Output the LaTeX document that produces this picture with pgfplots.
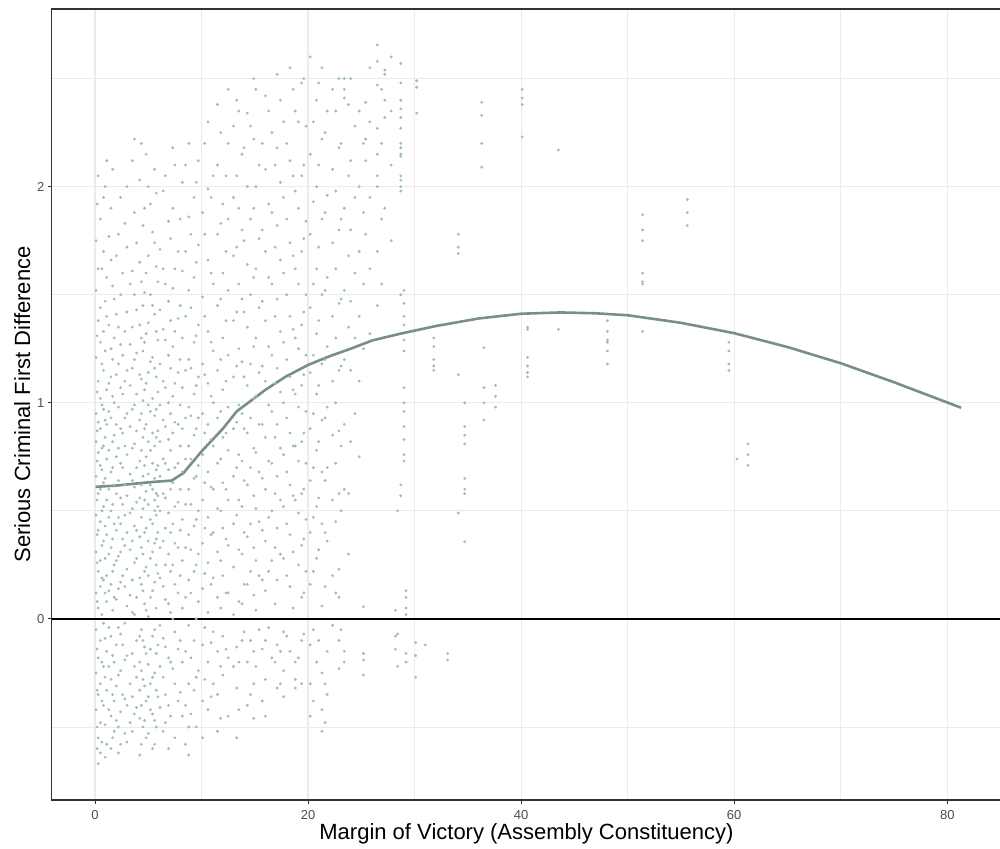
\documentclass[border=0pt]{standalone}
\usepackage{pgfplots}
\pgfplotsset{compat=1.18}
\usepackage{fontspec}
\setmainfont{Liberation Sans}
\definecolor{ptcol}{RGB}{158,188,188}
\definecolor{fitcol}{RGB}{120,142,141}
\definecolor{gridcol}{RGB}{235,235,235}
\definecolor{tickcol}{RGB}{77,77,77}
\definecolor{framecol}{RGB}{51,51,51}
\begin{document}
\begin{tikzpicture}
\useasboundingbox (0,0) rectangle (500pt,424pt);
\begin{axis}[
  at={(25.93pt,24pt)}, anchor=south west,
  scale only axis, width=474.6pt, height=395.5pt,
  xmin=-4.05, xmax=85.05, ymin=-0.838, ymax=2.822,
  xtick={0,20,40,60,80}, minor xtick={10,30,50,70},
  ytick={0,1,2}, minor ytick={-0.5,0.5,1.5,2.5},
  grid=both,
  major grid style={draw=gridcol, line width=0.6pt},
  minor grid style={draw=gridcol, line width=0.35pt},
  axis line style={draw=framecol, line width=0.6pt},
  tick align=outside, major tick length=2pt, minor tick length=0pt,
  xtick pos=bottom, ytick pos=left,
  tick style={draw=framecol, line width=0.5pt},
  /pgf/number format/assume math mode=true,
  ticklabel style={font=\fontsize{6.5}{7}\selectfont, text=tickcol},
  xticklabel style={inner sep=0pt, yshift=-3pt},
  yticklabel style={inner sep=0pt, xshift=-1.5pt},
  xlabel={Margin of Victory (Assembly Constituency)},
  ylabel={Serious Criminal First Difference},
  label style={font=\fontsize{11}{13}\selectfont},
  xlabel style={at={(axis description cs:0.5,-0.05)}, anchor=base},
  ylabel style={at={(axis description cs:-0.02303,0.5)}, anchor=base},
  clip=true,
]
\addplot[only marks, color=ptcol, mark=*, mark size=0.5pt, mark options={draw=none, fill=ptcol, fill opacity=0.42}] coordinates {
(0.1,1.75)(0.1,1.52)(0.1,1.21)(0.1,0.95)(0.1,0.82)(0.1,0.66)(0.1,0.48)(0.1,0.31)(0.1,0.12)(0.1,-0.05)(0.1,-0.25)(0.1,-0.42)
(0.3,2.05)(0.3,1.62)(0.3,1.38)(0.3,1.1)(0.3,0.91)(0.3,0.77)(0.3,0.58)(0.3,0.41)(0.3,0.22)(0.3,0.05)(0.3,-0.18)(0.3,-0.35)(0.3,-0.55)(0.3,-0.67)
(0.5,1.85)(0.5,1.44)(0.5,1.28)(0.5,1.02)(0.5,0.88)(0.5,0.71)(0.5,0.6)(0.5,0.45)(0.5,0.27)(0.5,0.15)(0.5,-0.1)(0.5,-0.3)(0.5,-0.48)(0.5,-0.62)
(0.8,1.95)(0.8,1.7)(0.8,1.33)(0.8,1.15)(0.8,0.97)(0.8,0.8)(0.8,0.63)(0.8,0.52)(0.8,0.36)(0.8,0.18)(0.8,-0.02)(0.8,-0.22)(0.8,-0.4)
(1.1,2.12)(1.1,1.58)(1.1,1.4)(1.1,1.06)(1.1,0.9)(1.1,0.74)(1.1,0.55)(1.1,0.39)(1.1,0.2)(1.1,0.08)(1.1,-0.15)(1.1,-0.33)(1.1,-0.58)
(1.5,1.9)(1.5,1.66)(1.5,1.25)(1.5,1.12)(1.5,0.93)(1.5,0.68)(1.5,0.5)(1.5,0.33)(1.5,0.16)(1.5,-0.08)(1.5,-0.28)(1.5,-0.45)(1.5,-0.6)
(1.8,1.48)(1.8,1.3)(1.8,1.0)(1.8,0.85)(1.8,0.62)(1.8,0.44)(1.8,0.25)(1.8,0.1)(1.8,-0.2)(1.8,-0.38)(1.8,-0.52)
(2.2,1.78)(2.2,1.35)(2.2,1.18)(2.2,0.98)(2.2,0.79)(2.2,0.64)(2.2,0.47)(2.2,0.29)(2.2,0.14)(2.2,-0.04)(2.2,-0.26)(2.2,-0.5)(2.2,-0.62)
(2.6,1.6)(2.6,1.22)(2.6,1.04)(2.6,0.86)(2.6,0.7)(2.6,0.53)(2.6,0.37)(2.6,0.2)(2.6,-0.12)(2.6,-0.35)
(3.0,2.0)(3.0,1.72)(3.0,1.42)(3.0,1.15)(3.0,0.95)(3.0,0.76)(3.0,0.57)(3.0,0.4)(3.0,0.23)(3.0,0.06)(3.0,-0.17)(3.0,-0.4)(3.0,-0.57)
(3.3,1.55)(3.3,1.27)(3.3,1.08)(3.3,0.89)(3.3,0.67)(3.3,0.49)(3.3,0.32)(3.3,0.11)(3.3,-0.3)(3.3,-0.48)
(3.7,2.22)(3.7,1.88)(3.7,1.5)(3.7,1.2)(3.7,0.99)(3.7,0.81)(3.7,0.61)(3.7,0.43)(3.7,0.26)(3.7,0.02)(3.7,-0.22)(3.7,-0.44)
(4.2,2.03)(4.2,1.65)(4.2,1.36)(4.2,1.13)(4.2,0.92)(4.2,0.73)(4.2,0.56)(4.2,0.38)(4.2,0.19)(4.2,-0.08)(4.2,-0.2)(4.2,-0.33)(4.2,-0.46)(4.2,-0.63)
(4.5,1.82)(4.5,1.45)(4.5,1.24)(4.5,1.01)(4.5,0.84)(4.5,0.66)(4.5,0.51)(4.5,0.3)(4.5,0.13)(4.5,-0.1)(4.5,-0.28)(4.5,-0.5)
(4.8,2.15)(4.8,1.6)(4.8,1.32)(4.8,1.09)(4.8,0.9)(4.8,0.75)(4.8,0.59)(4.8,0.42)(4.8,0.24)(4.8,0.04)(4.8,-0.16)(4.8,-0.38)(4.8,-0.55)
(5.2,1.92)(5.2,1.5)(5.2,1.19)(5.2,0.96)(5.2,0.78)(5.2,0.62)(5.2,0.46)(5.2,0.28)(5.2,0.1)(5.2,-0.14)(5.2,-0.3)(5.2,-0.42)
(5.6,2.08)(5.6,1.74)(5.6,1.41)(5.6,1.16)(5.6,0.94)(5.6,0.8)(5.6,0.65)(5.6,0.55)(5.6,0.5)(5.6,0.35)(5.6,0.17)(5.6,-0.05)(5.6,-0.25)(5.6,-0.47)(5.6,-0.58)
(5.9,1.56)(5.9,1.29)(5.9,1.05)(5.9,0.87)(5.9,0.71)(5.9,0.57)(5.9,0.52)(5.9,0.4)(5.9,0.21)(5.9,-0.12)(5.9,-0.36)
(6.4,1.98)(6.4,1.62)(6.4,1.34)(6.4,1.1)(6.4,0.92)(6.4,0.74)(6.4,0.58)(6.4,0.36)(6.4,0.15)(6.4,-0.09)(6.4,-0.27)(6.4,-0.52)
(6.9,1.84)(6.9,1.47)(6.9,1.22)(6.9,1.0)(6.9,0.83)(6.9,0.69)(6.9,0.49)(6.9,0.3)(6.9,0.07)(6.9,-0.18)(6.9,-0.4)(6.9,-0.6)
(7.3,2.18)(7.3,1.9)(7.3,1.53)(7.3,1.26)(7.3,1.03)(7.3,0.86)(7.3,0.63)(7.3,0.44)(7.3,0.25)(7.3,0.0)(7.3,-0.23)
(7.8,1.7)(7.8,1.39)(7.8,1.14)(7.8,0.9)(7.8,0.72)(7.8,0.54)(7.8,0.33)(7.8,0.12)(7.8,-0.14)(7.8,-0.38)
(8.2,2.02)(8.2,1.61)(8.2,1.3)(8.2,1.07)(8.2,0.88)(8.2,0.68)(8.2,0.46)(8.2,0.27)(8.2,0.05)(8.2,-0.2)(8.2,-0.45)
(8.8,2.2)(8.8,1.86)(8.8,1.52)(8.8,1.2)(8.8,0.98)(8.8,0.8)(8.8,0.6)(8.8,0.39)(8.8,0.18)(8.8,-0.03)(8.8,-0.3)(8.8,-0.5)(8.8,-0.63)
(9.3,1.95)(9.3,1.58)(9.3,1.28)(9.3,1.04)(9.3,0.85)(9.3,0.65)(9.3,0.43)(9.3,0.22)(9.3,-0.1)(9.3,-0.33)
(9.7,2.12)(9.7,1.73)(9.7,1.36)(9.7,1.12)(9.7,0.93)(9.7,0.71)(9.7,0.5)(9.7,0.3)(9.7,0.08)(9.7,-0.24)
(10.1,1.88)(10.1,1.49)(10.1,1.18)(10.1,0.95)(10.1,0.76)(10.1,0.55)(10.1,0.35)(10.1,0.14)(10.1,-0.12)(10.1,-0.38)(10.1,-0.55)
(10.6,2.3)(10.6,1.99)(10.6,1.66)(10.6,1.33)(10.6,1.09)(10.6,0.9)(10.6,0.68)(10.6,0.47)(10.6,0.26)(10.6,0.03)(10.6,-0.2)(10.6,-0.42)
(11.1,2.05)(11.1,1.55)(11.1,1.24)(11.1,1.0)(11.1,0.8)(11.1,0.6)(11.1,0.4)(11.1,0.19)(11.1,-0.06)(11.1,-0.3)
(11.5,2.38)(11.5,2.1)(11.5,1.78)(11.5,1.45)(11.5,1.15)(11.5,0.93)(11.5,0.72)(11.5,0.51)(11.5,0.31)(11.5,0.1)(11.5,-0.15)(11.5,-0.35)(11.5,-0.52)
(12.0,1.92)(12.0,1.6)(12.0,1.3)(12.0,1.06)(12.0,0.84)(12.0,0.63)(12.0,0.42)(12.0,0.2)(12.0,-0.08)(12.0,-0.26)
(12.5,2.45)(12.5,2.2)(12.5,1.85)(12.5,1.52)(12.5,1.22)(12.5,0.98)(12.5,0.78)(12.5,0.55)(12.5,0.34)(12.5,0.12)(12.5,-0.18)(12.5,-0.45)
(13.0,2.28)(13.0,1.95)(13.0,1.68)(13.0,1.38)(13.0,1.12)(13.0,0.88)(13.0,0.66)(13.0,0.44)(13.0,0.24)(13.0,0.02)(13.0,-0.22)
(13.3,2.4)(13.3,2.05)(13.3,1.72)(13.3,1.42)(13.3,1.17)(13.3,0.91)(13.3,0.7)(13.3,0.48)(13.3,-0.13)(13.3,-0.32)(13.3,-0.55)
(13.8,2.15)(13.8,1.8)(13.8,1.48)(13.8,1.19)(13.8,0.95)(13.8,0.73)(13.8,0.52)(13.8,0.3)(13.8,0.07)(13.8,-0.1)
(14.3,2.34)(14.3,2.0)(14.3,1.64)(14.3,1.35)(14.3,1.08)(14.3,0.86)(14.3,0.62)(14.3,0.38)(14.3,0.16)(14.3,-0.2)(14.3,-0.4)
(14.9,2.5)(14.9,2.22)(14.9,1.9)(14.9,1.58)(14.9,1.26)(14.9,1.02)(14.9,0.79)(14.9,0.57)(14.9,0.33)(14.9,0.11)(14.9,-0.15)(14.9,-0.3)(14.9,-0.46)
(15.4,2.1)(15.4,1.76)(15.4,1.44)(15.4,1.14)(15.4,0.9)(15.4,0.68)(15.4,0.45)(15.4,0.2)(15.4,-0.05)
(16.0,2.42)(16.0,2.08)(16.0,1.7)(16.0,1.38)(16.0,1.1)(16.0,0.84)(16.0,0.6)(16.0,0.36)(16.0,0.13)(16.0,-0.1)(16.0,-0.28)(16.0,-0.45)
(16.6,2.25)(16.6,1.88)(16.6,1.55)(16.6,1.22)(16.6,0.96)(16.6,0.72)(16.6,0.5)(16.6,0.27)(16.6,-0.18)
(17.1,2.52)(17.1,2.18)(17.1,1.82)(17.1,1.48)(17.1,1.16)(17.1,0.9)(17.1,0.66)(17.1,0.42)(17.1,0.18)(17.1,-0.12)(17.1,-0.32)
(17.7,2.3)(17.7,1.95)(17.7,1.6)(17.7,1.28)(17.7,1.0)(17.7,0.76)(17.7,0.52)(17.7,0.28)(17.7,-0.06)(17.7,-0.24)(17.7,-0.36)
(18.3,2.55)(18.3,2.12)(18.3,1.74)(18.3,1.4)(18.3,1.12)(18.3,0.86)(18.3,0.62)(18.3,0.39)(18.3,0.15)(18.3,-0.15)
(18.8,2.35)(18.8,1.98)(18.8,1.62)(18.8,1.3)(18.8,1.04)(18.8,0.8)(18.8,0.55)(18.8,-0.2)(18.8,-0.28)(18.8,-0.32)
(19.4,2.48)(19.4,2.05)(19.4,1.7)(19.4,1.36)(19.4,1.08)(19.4,0.82)(19.4,0.58)(19.4,0.34)(19.4,0.1)(19.4,-0.1)(19.4,-0.3)
(19.8,2.28)(19.8,1.84)(19.8,1.5)(19.8,1.22)(19.8,0.96)(19.8,0.72)(19.8,0.46)(19.8,0.22)
(20.2,2.6)(20.2,2.15)(20.2,1.78)(20.2,1.44)(20.2,1.14)(20.2,0.88)(20.2,0.64)(20.2,0.4)(20.2,0.16)(20.2,-0.12)(20.2,-0.3)(20.2,-0.45)
(20.8,2.4)(20.8,2.0)(20.8,1.62)(20.8,1.32)(20.8,1.04)(20.8,0.78)(20.8,0.52)(20.8,0.28)(20.8,-0.2)
(21.3,2.55)(21.3,2.22)(21.3,1.85)(21.3,1.5)(21.3,1.18)(21.3,0.92)(21.3,0.68)(21.3,0.44)(21.3,0.06)(21.3,-0.25)(21.3,-0.42)(21.3,-0.52)
(21.8,2.35)(21.8,1.96)(21.8,1.58)(21.8,1.26)(21.8,0.98)(21.8,0.7)(21.8,0.36)(21.8,-0.15)(21.8,-0.35)
(22.3,2.45)(22.3,2.08)(22.3,1.74)(22.3,1.4)(22.3,1.1)(22.3,0.85)(22.3,0.55)(22.3,0.2)(22.3,-0.03)
(22.9,2.5)(22.9,2.18)(22.9,1.8)(22.9,1.46)(22.9,1.15)(22.9,0.87)(22.9,0.58)(22.9,0.23)(22.9,0.1)(22.9,-0.1)(22.9,-0.23)
(23.4,2.5)(23.4,2.45)(23.4,2.41)(23.4,1.9)(23.4,1.52)(23.4,1.2)(23.4,0.9)(23.4,0.6)(23.4,-0.15)(23.4,-0.2)
(23.8,2.38)(23.8,2.05)(23.8,1.68)(23.8,1.35)(23.8,0.58)(23.8,0.3)
(24.4,2.28)(24.4,1.95)(24.4,1.6)(24.4,1.3)(24.4,0.95)
(25.2,2.2)(25.2,1.88)(25.2,1.55)(25.2,1.25)(25.2,0.056)(25.2,-0.16)(25.2,-0.19)(25.2,-0.26)
(25.4,2.39)(25.4,2.22)(25.4,2.12)(25.4,1.78)
(26.5,2.656)(26.5,2.58)(26.5,2.47)(26.5,2.27)(26.5,2.15)(26.5,2.05)(26.5,2.0)(26.5,1.7)(26.5,1.45)
(27.2,2.54)(27.2,2.52)(27.2,2.4)(27.2,2.32)(27.2,1.9)
(28.2,0.04)(28.2,-0.08)(28.2,-0.14)(28.4,0.5)(28.4,-0.07)(28.4,-0.22)
(28.7,0.62)(28.7,0.57)(28.7,2.57)(28.7,2.48)(28.7,2.4)(28.7,2.36)(28.7,2.32)(28.7,2.27)(28.7,2.2)(28.7,2.18)(28.7,2.15)(28.7,2.14)(28.7,2.05)(28.7,2.03)(28.7,2.0)(28.7,1.98)(28.7,1.5)
(29.0,1.52)(29.0,1.46)(29.0,1.4)(29.0,1.36)(29.0,1.29)(29.0,1.24)(29.0,1.07)(29.0,1.0)(29.0,0.96)(29.0,0.89)(29.0,0.83)(29.0,0.76)(29.0,0.73)
(29.2,0.13)(29.2,0.1)(29.2,0.05)(29.2,0.02)(29.2,-0.16)(29.2,-0.2)
(30.1,-0.11)(30.1,-0.17)(30.1,-0.27)(30.2,2.49)(30.2,2.46)(30.2,2.34)(31.0,-0.12)
(31.8,1.30)(31.8,1.26)(31.8,1.20)(31.8,1.17)(31.8,1.15)
(33.1,-0.16)(33.1,-0.19)
(34.1,1.78)(34.1,1.72)(34.1,1.69)(34.1,1.13)(34.1,0.49)
(34.7,1.0)(34.7,0.89)(34.7,0.85)(34.7,0.81)(34.7,0.65)(34.7,0.6)(34.7,0.58)(34.7,0.357)
(36.3,2.39)(36.3,2.33)(36.3,2.2)(36.3,2.09)
(36.5,1.255)(36.5,1.07)(36.5,1.0)(36.5,0.92)
(37.6,1.08)(37.6,1.03)(37.6,0.98)
(40.1,2.45)(40.1,2.41)(40.1,2.38)(40.1,2.23)
(40.6,1.35)(40.6,1.34)(40.6,1.21)(40.6,1.17)(40.6,1.14)(40.6,1.12)
(43.5,2.17)(43.5,1.34)
(48.1,1.38)(48.1,1.33)(48.1,1.29)(48.1,1.28)(48.1,1.24)(48.1,1.18)
(51.4,1.87)(51.4,1.8)(51.4,1.75)(51.4,1.6)(51.4,1.56)(51.4,1.55)(51.4,1.33)
(55.6,1.94)(55.6,1.88)(55.6,1.82)
(59.5,1.28)(59.5,1.24)(59.5,1.18)(59.5,1.15)
(60.25,0.74)(61.3,0.81)(61.3,0.76)(61.3,0.71)
(0.2,1.92)(0.2,1.31)(0.2,1.05)(0.2,0.87)(0.2,0.73)(0.2,0.55)(0.2,0.39)(0.2,0.26)(0.2,0.08)(0.2,-0.14)(0.2,-0.33)(0.2,-0.5)(0.2,-0.6)
(0.65,1.62)(0.65,1.18)(0.65,0.99)(0.65,0.79)(0.65,0.69)(0.65,0.5)(0.65,0.34)(0.65,0.19)(0.65,0.02)(0.65,-0.2)(0.65,-0.38)(0.65,-0.57)
(0.95,2.0)(0.95,1.47)(0.95,1.24)(0.95,0.92)(0.95,0.84)(0.95,0.65)(0.95,0.43)(0.95,0.28)(0.95,0.12)(0.95,-0.09)(0.95,-0.27)(0.95,-0.49)(0.95,-0.64)
(1.3,1.77)(1.3,1.36)(1.3,1.09)(1.3,0.96)(1.3,0.78)(1.3,0.6)(1.3,0.47)(1.3,0.3)(1.3,0.13)(1.3,-0.04)(1.3,-0.22)(1.3,-0.42)
(1.65,2.08)(1.65,1.54)(1.65,1.2)(1.65,1.03)(1.65,0.82)(1.65,0.7)(1.65,0.53)(1.65,0.37)(1.65,0.22)(1.65,0.04)(1.65,-0.17)(1.65,-0.35)(1.65,-0.55)
(2.0,1.68)(2.0,1.41)(2.0,1.13)(2.0,0.9)(2.0,0.75)(2.0,0.58)(2.0,0.41)(2.0,0.27)(2.0,0.09)(2.0,-0.12)(2.0,-0.31)(2.0,-0.47)
(2.4,1.95)(2.4,1.5)(2.4,1.27)(2.4,1.07)(2.4,0.88)(2.4,0.72)(2.4,0.56)(2.4,0.44)(2.4,0.31)(2.4,0.17)(2.4,-0.07)(2.4,-0.24)(2.4,-0.43)(2.4,-0.58)
(2.8,1.83)(2.8,1.33)(2.8,1.1)(2.8,0.93)(2.8,0.8)(2.8,0.62)(2.8,0.48)(2.8,0.34)(2.8,0.15)(2.8,-0.02)(2.8,-0.19)(2.8,-0.37)(2.8,-0.53)
(3.5,2.12)(3.5,1.61)(3.5,1.35)(3.5,1.16)(3.5,0.97)(3.5,0.79)(3.5,0.64)(3.5,0.51)(3.5,0.36)(3.5,0.18)(3.5,0.03)(3.5,-0.16)(3.5,-0.36)(3.5,-0.52)
(3.9,1.74)(3.9,1.43)(3.9,1.23)(3.9,1.04)(3.9,0.87)(3.9,0.7)(3.9,0.54)(3.9,0.41)(3.9,0.28)(3.9,0.1)(3.9,-0.1)(3.9,-0.27)(3.9,-0.41)
(4.35,2.2)(4.35,1.56)(4.35,1.3)(4.35,1.11)(4.35,0.95)(4.35,0.78)(4.35,0.62)(4.35,0.47)(4.35,0.33)(4.35,0.16)(4.35,-0.05)(4.35,-0.24)(4.35,-0.4)(4.35,-0.58)
(4.65,1.9)(4.65,1.51)(4.65,1.28)(4.65,1.06)(4.65,0.88)(4.65,0.71)(4.65,0.55)(4.65,0.4)(4.65,0.22)(4.65,0.07)(4.65,-0.13)(4.65,-0.31)(4.65,-0.47)
(5.0,2.0)(5.0,1.68)(5.0,1.37)(5.0,1.14)(5.0,0.99)(5.0,0.82)(5.0,0.67)(5.0,0.53)(5.0,0.36)(5.0,0.2)(5.0,0.01)(5.0,-0.21)(5.0,-0.36)(5.0,-0.53)
(5.4,1.79)(5.4,1.45)(5.4,1.21)(5.4,1.02)(5.4,0.86)(5.4,0.72)(5.4,0.6)(5.4,0.44)(5.4,0.31)(5.4,0.13)(5.4,-0.08)(5.4,-0.27)(5.4,-0.44)(5.4,-0.6)
(5.75,1.97)(5.75,1.63)(5.75,1.33)(5.75,1.12)(5.75,0.97)(5.75,0.84)(5.75,0.69)(5.75,0.58)(5.75,0.48)(5.75,0.37)(5.75,0.25)(5.75,0.05)(5.75,-0.16)(5.75,-0.33)(5.75,-0.5)
(6.1,1.71)(6.1,1.43)(6.1,1.18)(6.1,0.99)(6.1,0.82)(6.1,0.66)(6.1,0.5)(6.1,0.33)(6.1,0.19)(6.1,-0.03)(6.1,-0.22)(6.1,-0.41)
(6.6,2.05)(6.6,1.55)(6.6,1.29)(6.6,1.07)(6.6,0.89)(6.6,0.72)(6.6,0.56)(6.6,0.42)(6.6,0.25)(6.6,0.09)(6.6,-0.13)(6.6,-0.35)(6.6,-0.48)
(7.1,1.76)(7.1,1.38)(7.1,1.16)(7.1,0.95)(7.1,0.78)(7.1,0.6)(7.1,0.4)(7.1,0.22)(7.1,0.03)(7.1,-0.2)(7.1,-0.45)
(7.5,2.1)(7.5,1.62)(7.5,1.33)(7.5,1.09)(7.5,0.91)(7.5,0.7)(7.5,0.52)(7.5,0.35)(7.5,0.16)(7.5,-0.06)(7.5,-0.3)(7.5,-0.55)
(8.0,1.85)(8.0,1.45)(8.0,1.2)(8.0,0.99)(8.0,0.8)(8.0,0.6)(8.0,0.41)(8.0,0.2)(8.0,-0.1)(8.0,-0.34)
(8.5,2.1)(8.5,1.7)(8.5,1.4)(8.5,1.15)(8.5,0.93)(8.5,0.74)(8.5,0.53)(8.5,0.33)(8.5,0.1)(8.5,-0.15)(8.5,-0.4)(8.5,-0.58)
(9.0,1.78)(9.0,1.44)(9.0,1.16)(9.0,0.94)(9.0,0.74)(9.0,0.53)(9.0,0.32)(9.0,0.12)(9.0,-0.18)(9.0,-0.44)
(9.5,2.02)(9.5,1.65)(9.5,1.31)(9.5,1.08)(9.5,0.88)(9.5,0.66)(9.5,0.46)(9.5,0.25)(9.5,0.0)(9.5,-0.27)(9.5,-0.5)
(10.3,2.2)(10.3,1.78)(10.3,1.4)(10.3,1.13)(10.3,0.86)(10.3,0.63)(10.3,0.42)(10.3,0.21)(10.3,-0.04)(10.3,-0.28)
(10.9,1.95)(10.9,1.6)(10.9,1.28)(10.9,1.03)(10.9,0.83)(10.9,0.61)(10.9,0.39)(10.9,0.16)(10.9,-0.11)(10.9,-0.36)
(11.8,2.25)(11.8,1.83)(11.8,1.48)(11.8,1.2)(11.8,0.96)(11.8,0.74)(11.8,0.5)(11.8,0.27)(11.8,0.05)(11.8,-0.22)(11.8,-0.46)
(12.3,2.05)(12.3,1.7)(12.3,1.38)(12.3,1.1)(12.3,0.86)(12.3,0.6)(12.3,0.37)(12.3,0.12)(12.3,-0.14)
(13.5,2.35)(13.5,1.9)(13.5,1.55)(13.5,1.25)(13.5,0.99)(13.5,0.76)(13.5,0.55)(13.5,0.32)(13.5,0.08)(13.5,-0.2)(13.5,-0.42)
(14.0,2.18)(14.0,1.75)(14.0,1.42)(14.0,1.12)(14.0,0.88)(14.0,0.64)(14.0,0.4)(14.0,0.16)(14.0,-0.06)
(14.6,2.28)(14.6,1.85)(14.6,1.5)(14.6,1.18)(14.6,0.93)(14.6,0.7)(14.6,0.44)(14.6,0.22)(14.6,-0.1)(14.6,-0.35)
(15.1,2.45)(15.1,2.0)(15.1,1.62)(15.1,1.3)(15.1,1.03)(15.1,0.77)(15.1,0.51)(15.1,0.27)(15.1,0.04)(15.1,-0.22)
(15.7,2.2)(15.7,1.8)(15.7,1.47)(15.7,1.17)(15.7,0.9)(15.7,0.65)(15.7,0.41)(15.7,0.18)(15.7,-0.14)(15.7,-0.38)
(16.3,2.35)(16.3,1.92)(16.3,1.58)(16.3,1.26)(16.3,0.99)(16.3,0.73)(16.3,0.47)(16.3,0.22)(16.3,-0.04)
(16.9,2.1)(16.9,1.72)(16.9,1.4)(16.9,1.09)(16.9,0.84)(16.9,0.58)(16.9,0.33)(16.9,0.07)(16.9,-0.2)
(17.4,2.4)(17.4,2.02)(17.4,1.66)(17.4,1.33)(17.4,1.05)(17.4,0.79)(17.4,0.55)(17.4,0.3)(17.4,-0.15)(17.4,-0.3)
(18.0,2.2)(18.0,1.85)(18.0,1.5)(18.0,1.2)(18.0,0.93)(18.0,0.68)(18.0,0.44)(18.0,0.2)(18.0,-0.08)
(18.6,2.45)(18.6,2.05)(18.6,1.68)(18.6,1.34)(18.6,1.06)(18.6,0.8)(18.6,0.57)(18.6,0.31)(18.6,0.05)
(19.1,2.3)(19.1,1.9)(19.1,1.55)(19.1,1.25)(19.1,0.98)(19.1,0.73)(19.1,0.49)(19.1,0.25)(19.1,-0.18)
(19.6,2.5)(19.6,2.1)(19.6,1.76)(19.6,1.42)(19.6,1.13)(19.6,0.86)(19.6,0.6)(19.6,0.37)(19.6,0.12)(19.6,-0.07)
(20.5,2.3)(20.5,1.93)(20.5,1.55)(20.5,1.22)(20.5,0.95)(20.5,0.7)(20.5,0.47)(20.5,0.22)(20.5,-0.05)(20.5,-0.38)
(21.0,2.48)(21.0,2.1)(21.0,1.72)(21.0,1.38)(21.0,1.08)(21.0,0.82)(21.0,0.56)(21.0,0.32)(21.0,-0.1)
(21.6,2.25)(21.6,1.88)(21.6,1.52)(21.6,1.2)(21.6,0.93)(21.6,0.64)(21.6,0.4)(21.6,0.15)(21.6,-0.3)(21.6,-0.48)
(22.6,2.35)(22.6,1.98)(22.6,1.62)(22.6,1.3)(22.6,1.0)(22.6,0.72)(22.6,0.45)(22.6,0.12)
(23.1,2.2)(23.1,1.85)(23.1,1.48)(23.1,1.17)(23.1,0.8)(23.1,0.5)(23.1,-0.05)
(24.0,2.5)(24.0,2.12)(24.0,1.8)(24.0,1.47)(24.0,1.15)(24.0,0.82)
(24.8,2.35)(24.8,2.0)(24.8,1.7)(24.8,1.4)(24.8,1.1)(24.8,0.75)
(25.8,2.55)(25.8,2.3)(25.8,1.95)(25.8,1.62)(25.8,1.32)
(26.9,2.45)(26.9,2.2)(26.9,1.85)(26.9,1.55)
(27.8,2.6)(27.8,2.35)(27.8,2.1)(27.8,1.75)
};
\addplot[fitcol, line width=1.3pt, line join=round] coordinates {
(0.05,0.611)(2,0.617)(4,0.627)(5.5,0.634)(7.2,0.640)(8.3,0.675)(10,0.775)(12,0.880)(13.3,0.960)(14.7,1.012)(16,1.060)(17.9,1.121)(20,1.175)(22,1.215)(24,1.250)(26,1.288)(28.6,1.319)(32,1.355)(36,1.390)(40,1.412)(43.7,1.418)(47,1.414)(50,1.405)(55,1.370)(60,1.322)(65,1.258)(70,1.183)(75,1.095)(81.3,0.977)
};
\addplot[black, line width=1.1pt] coordinates {(-10,0) (100,0)};
\end{axis}
\end{tikzpicture}
\end{document}
